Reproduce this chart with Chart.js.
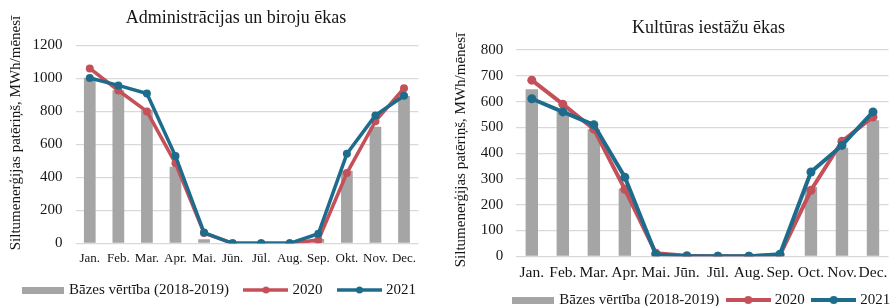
<!DOCTYPE html>
<html><head><meta charset="utf-8">
<script src="https://cdn.jsdelivr.net/npm/chart.js@4/dist/chart.umd.min.js"></script>
<style>
html,body{margin:0;padding:0;width:896px;height:306px;overflow:hidden;background:#fff;}
canvas{position:absolute;top:0;}
#c1{left:0px;}
#c2{left:448px;}
</style></head><body>
<canvas id="c1" width="448" height="310"></canvas>
<canvas id="c2" width="488" height="320"></canvas>
<script>
// ---------- data ----------
const monthsAdm = ['Jan.','Feb.','Mar.','Apr.','Mai.','Jūn.','Jūl.','Aug.','Sep.','Okt.','Nov.','Dec.'];
const monthsKult = ['Jan.','Feb.','Mar.','Apr.','Mai.','Jūn.','Jūl.','Aug.','Sep.','Oct.','Nov.','Dec.'];

const admBase = [1005, 929, 810, 465, 24, 0, 0, 0, 26, 440, 707, 893];
const adm2020 = [1061, 927, 800, 485, 62, 0, 0, 0, 20, 426, 741, 941];
const adm2021 = [1003, 958, 909, 529, 65, 0, 0, 0, 58, 543, 776, 895];
const admTicks = [0, 200, 400, 600, 800, 1000, 1200];

const kultBase = [648, 562, 493, 263, 0, 0, 0, 0, 0, 269, 421, 528];
const kult2020 = [683, 590, 493, 260, 12, 2, 0, 0, 5, 256, 446, 540];
const kult2021 = [611, 560, 510, 307, 7, 0, 0, 0, 8, 327, 430, 560];
const kultTicks = [0, 100, 200, 300, 400, 500, 600, 700, 800];

const seriesNames = ['Bāzes vērtība (2018-2019)', '2020', '2021'];
const titleAdm = 'Administrācijas un biroju ēkas';
const titleKult = 'Kultūras iestāžu ēkas';
const yTitle = 'Siltumenerģijas patēriņš, MWh/mēnesī';

// ---------- style ----------
const FONT = "'Liberation Serif', 'Times New Roman', serif";
const TEXT = '#161616';
const GRAY = '#A5A5A5';
const RED = '#C4505A';
const BLUE = '#1E6C8C';
const GRID = '#D9D9D9';

function makeIcon(kind, color, lw, r) {
  const c = document.createElement('canvas');
  if (kind === 'bar') {
    c.width = 42; c.height = 7;
    const x = c.getContext('2d');
    x.fillStyle = color; x.fillRect(0, 0, 42, 7);
  } else {
    c.width = 45; c.height = 12;
    const x = c.getContext('2d');
    x.strokeStyle = color; x.lineWidth = lw;
    x.beginPath(); x.moveTo(0, 6); x.lineTo(45, 6); x.stroke();
    x.fillStyle = color; x.beginPath(); x.arc(22.5, 6, r, 0, Math.PI * 2); x.fill();
  }
  return c;
}

// draws the chart title and the rotated value-axis title
const titlePlugin = {
  id: 'chartTitle',
  afterDraw(chart, args, opts) {
    const ctx = chart.ctx;
    ctx.save();
    ctx.fillStyle = TEXT;
    ctx.textAlign = 'center';
    ctx.textBaseline = 'middle';
    ctx.font = opts.size + 'px ' + FONT;
    ctx.fillText(opts.text, opts.x, opts.y);
    ctx.font = opts.axisSize + 'px ' + FONT;
    ctx.translate(opts.axisX, opts.axisY);
    ctx.rotate(-Math.PI / 2);
    ctx.fillText(opts.axisText, 0, 0);
    ctx.restore();
  }
};

function build(canvasId, cfg) {
  const icons = [
    makeIcon('bar', GRAY),
    makeIcon('line', RED, cfg.lw, cfg.pr - 0.5),
    makeIcon('line', BLUE, cfg.lw, cfg.pr - 0.5)
  ];
  const lineDs = (label, data, color, order) => ({
    type: 'line', label, data, order,
    borderColor: color, backgroundColor: color,
    borderWidth: cfg.lw, tension: 0,
    pointRadius: cfg.pr, pointHoverRadius: cfg.pr,
    pointBackgroundColor: color, pointBorderColor: color, pointBorderWidth: 0,
    fill: false
  });
  return new Chart(document.getElementById(canvasId), {
    type: 'bar',
    data: {
      labels: cfg.labels,
      datasets: [
        { type: 'bar', label: seriesNames[0], data: cfg.base, order: 3,
          backgroundColor: GRAY, borderWidth: 0,
          barPercentage: cfg.barPct, categoryPercentage: 1 },
        lineDs(seriesNames[1], cfg.s2020, RED, 2),
        lineDs(seriesNames[2], cfg.s2021, BLUE, 1)
      ]
    },
    options: {
      responsive: false, animation: false, devicePixelRatio: 1,
      layout: { padding: { top: cfg.top, left: cfg.padL, right: 0, bottom: 2.5 } },
      scales: {
        x: {
          grid: { display: false, drawTicks: false },
          border: { display: false },
          ticks: { autoSkip: false, maxRotation: 0, minRotation: 0, padding: cfg.xPad,
                   color: TEXT, font: { family: FONT, size: cfg.xFont } },
          afterFit(s) { s.height = cfg.xHeight; }
        },
        y: {
          min: cfg.ticks[0], max: cfg.ticks[cfg.ticks.length - 1],
          afterBuildTicks(s) { s.ticks = cfg.ticks.map(v => ({ value: v })); },
          grid: { color: GRID, lineWidth: 1.3, drawTicks: false },
          border: { display: false },
          ticks: { padding: 13, color: TEXT, font: { family: FONT, size: 15 },
                   callback: v => String(v) },
          title: { display: false },
          afterFit(s) { s.width = cfg.yWidth; }
        },
        yRightSpace: {
          position: 'right', display: true,
          grid: { display: false, drawTicks: false },
          border: { display: false },
          ticks: { display: false },
          afterFit(s) { s.width = cfg.rightSpace; }
        }
      },
      plugins: {
        tooltip: { enabled: false },
        chartTitle: { text: cfg.title, x: cfg.titleX, y: cfg.titleY, size: 18,
                      axisText: yTitle, axisX: cfg.yTitleX, axisY: cfg.yTitleY, axisSize: 15 },
        legend: {
          position: 'bottom', align: cfg.legAlign,
          labels: {
            usePointStyle: true, pointStyleWidth: 38, padding: cfg.legPad,
            color: TEXT, font: { family: FONT, size: 15 },
            generateLabels(chart) {
              return chart.data.datasets.map((ds, i) => ({
                text: ds.label, pointStyle: icons[i], fontColor: TEXT,
                fillStyle: 'transparent', strokeStyle: 'transparent', lineWidth: 0,
                hidden: false, datasetIndex: i
              }));
            }
          }
        }
      }
    },
    plugins: [titlePlugin]
  });
}

build('c1', {
  labels: monthsAdm, base: admBase, s2020: adm2020, s2021: adm2021, ticks: admTicks,
  title: titleAdm, titleX: 236, titleY: 18.5, yTitleX: 16, yTitleY: 133,
  top: 45.5, padL: 5.5, yWidth: 70, rightSpace: 29.7, xHeight: 21.2,
  xPad: 7, xFont: 13, legPad: 18, legAlign: 'start',
  barPct: 0.41, lw: 3.5, pr: 4
});

build('c2', {
  labels: monthsKult, base: kultBase, s2020: kult2020, s2021: kult2021, ticks: kultTicks,
  title: titleKult, titleX: 260.5, titleY: 28.5, yTitleX: 13.5, yTitleY: 150,
  top: 50, padL: 20, yWidth: 48.3, rightSpace: 47.5, xHeight: 26.2,
  xPad: 7, xFont: 15.5, legPad: 10, legAlign: 'center',
  barPct: 0.40, lw: 4, pr: 4.5
});
</script>
</body></html>
